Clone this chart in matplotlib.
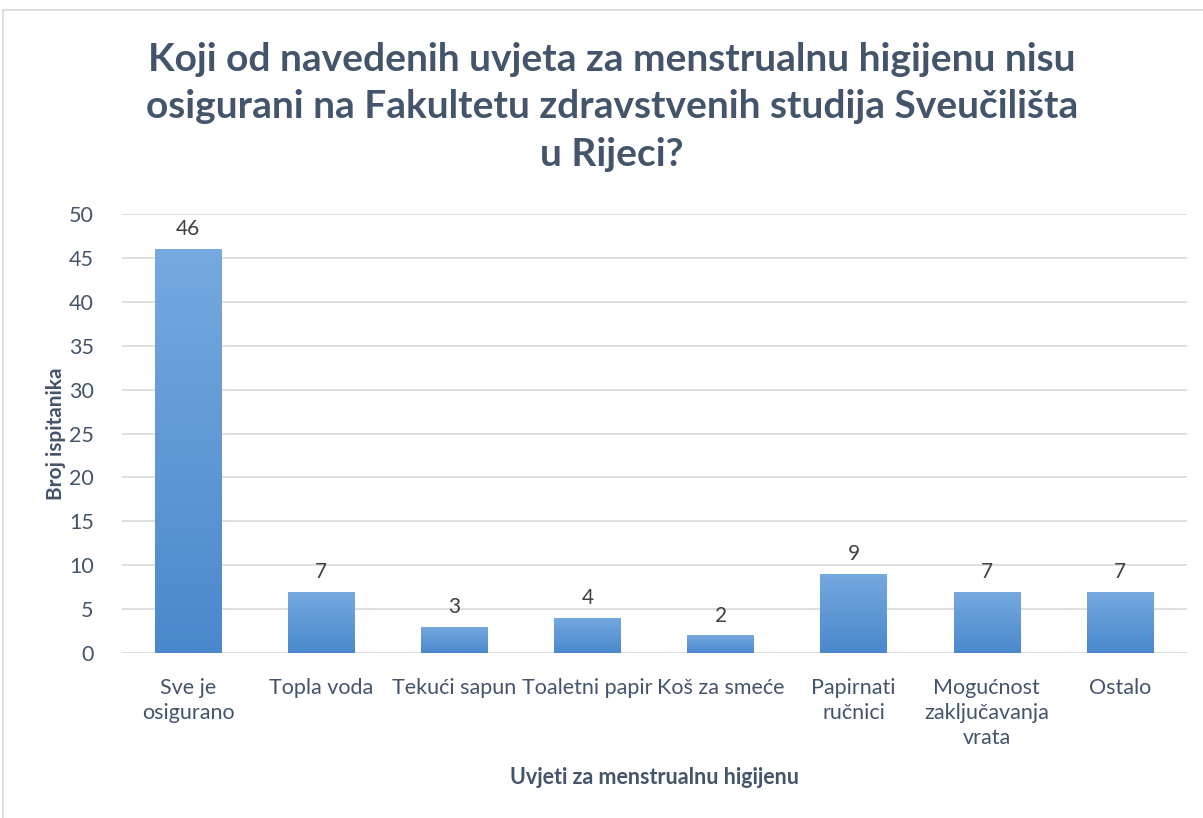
import numpy as np
import matplotlib
matplotlib.use("Agg")
import matplotlib.pyplot as plt
from matplotlib.patches import Rectangle

categories = ["Sve je\nosigurano", "Topla voda", "Tekući sapun", "Toaletni papir",
              "Koš za smeće", "Papirnati\nručnici", "Mogućnost\nzaključavanja\nvrata", "Ostalo"]
values = [46, 7, 3, 4, 2, 9, 7, 7]
yticks = [0, 5, 10, 15, 20, 25, 30, 35, 40, 45, 50]

text_color = "#44546A"
plt.rcParams['font.family'] = ['Lato', 'DejaVu Sans']

fig = plt.figure(figsize=(12.03, 8.18), dpi=100)
fig.patches.append(Rectangle((3 / 1203, -0.01), 1.1, 1 - 10 / 818 + 0.01, transform=fig.transFigure,
                             fill=False, edgecolor="#D9D9D9", linewidth=1.2))

ax = fig.add_axes([121.5 / 1203, 1 - 653 / 818, (1186.5 - 121.5) / 1203, (653 - 214) / 818])
x = np.arange(len(categories))
bars = ax.bar(x, values, width=0.5, color="#5B9BD5", zorder=2)

# vertical gradient fill for each bar
grad = np.linspace(0, 1, 256).reshape(-1, 1)
cmap = matplotlib.colors.LinearSegmentedColormap.from_list("g", ["#4A88CD", "#76A9DF"])
for b in bars:
    x0, w, h = b.get_x(), b.get_width(), b.get_height()
    im = ax.imshow(grad, extent=(x0, x0 + w, 0, h), origin="lower", cmap=cmap,
                   aspect="auto", zorder=3)
    im.set_clip_path(b)
    ax.text(x0 + w / 2, h + 1.1, str(int(h)), ha="center", va="bottom",
            fontsize=15, color="#404040", zorder=4)

ax.set_xlim(-0.5, len(categories) - 0.5)
ax.set_ylim(0, 50)
ax.set_yticks(yticks)
ax.set_xticks(x)
ax.set_xticklabels(categories, fontsize=15.5, color=text_color, linespacing=1.3)
ax.tick_params(axis="y", labelsize=15.5, colors=text_color, length=0, pad=20)
ax.tick_params(axis="x", length=0, pad=18)
ax.grid(axis="y", color="#D9D9D9", linewidth=1.2, zorder=0)
for s in ax.spines.values():
    s.set_visible(False)

ax.set_ylabel("Broj ispitanika", fontsize=15, fontweight="bold", color=text_color)
ax.yaxis.set_label_coords(-0.052, 0.5)
ax.set_xlabel("Uvjeti za menstrualnu higijenu", fontsize=15.5, fontweight="bold",
              color=text_color, labelpad=14)

fig.text(612 / 1203, 1 - 107 / 818,
         "Koji od navedenih uvjeta za menstrualnu higijenu nisu\n"
         "osigurani na Fakultetu zdravstvenih studija Sveučilišta\nu Rijeci?",
         ha="center", va="center", fontsize=28, fontweight="bold", color=text_color,
         linespacing=1.42)

fig.savefig("out.png", dpi=100)
